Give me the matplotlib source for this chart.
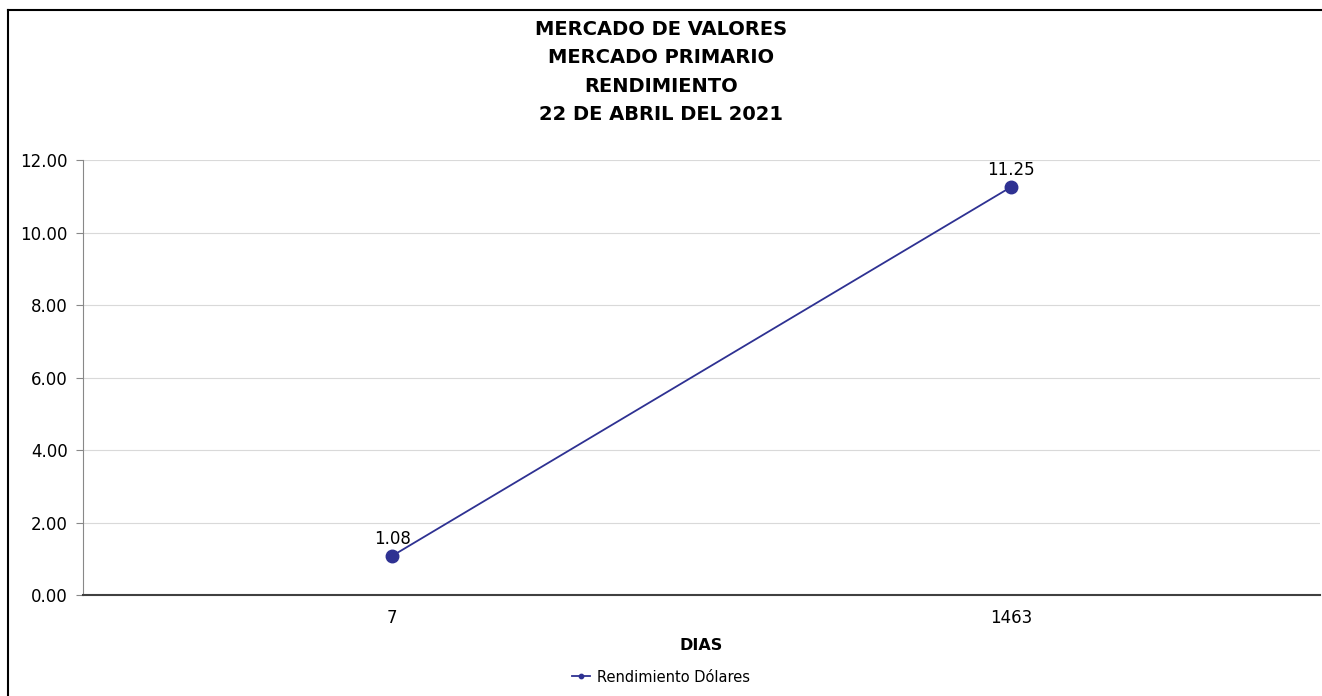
import matplotlib.pyplot as plt
from matplotlib.lines import Line2D

dias = ['7', '1463']
rendimiento = [1.08, 11.25]
y_ticks = [0, 2, 4, 6, 8, 10, 12]
title = 'MERCADO DE VALORES\nMERCADO PRIMARIO\nRENDIMIENTO\n22 DE ABRIL DEL 2021'
color = '#2E3192'

fig = plt.figure(figsize=(13.22, 6.96), dpi=100)
# frame only on the left and top, as in the source
bx, by = 7.5 / 1322, 1 - 9.5 / 696
fig.lines.append(Line2D([bx, bx], [0, by], transform=fig.transFigure, color='black', linewidth=1.5))
fig.lines.append(Line2D([bx, 1], [by, by], transform=fig.transFigure, color='black', linewidth=1.5))

ax = fig.add_axes([83 / 1322, 1 - 595 / 696, (1320 - 83) / 1322, (595 - 160) / 696])

x = list(range(len(dias)))
ax.plot(x, rendimiento, color=color, linewidth=1.3, marker='o', markersize=9,
        label='Rendimiento Dólares', zorder=3)
for xi, v in zip(x, rendimiento):
    ax.annotate(f'{v:.2f}', (xi, v), xytext=(0, 6), textcoords='offset points',
                ha='center', va='bottom', fontsize=12)

ax.set_xlim(-0.5, len(dias) - 0.5)
ax.set_ylim(0, 12)
ax.set_xticks(x)
ax.set_xticklabels(dias, fontsize=12)
ax.set_yticks(y_ticks)
ax.set_yticklabels([f'{t:.2f}' for t in y_ticks], fontsize=12)
ax.tick_params(axis='x', length=0, pad=10)
ax.tick_params(axis='y', length=5, color='#888888', pad=6)
ax.yaxis.grid(True, color='#d9d9d9', linewidth=0.8)
ax.set_axisbelow(True)
for s in ['top', 'right']:
    ax.spines[s].set_visible(False)
ax.spines['left'].set_color('#888888')
ax.spines['bottom'].set_color('#404040')
ax.spines['bottom'].set_linewidth(1.5)
ax.set_xlabel('DIAS', fontsize=11.5, fontweight='bold', labelpad=8)

fig.text(0.5, 1 - 20 / 696, title, ha='center', va='top', fontsize=14,
         fontweight='bold', linespacing=1.62)

fig.legend(loc='center', bbox_to_anchor=(0.5, 1 - 677 / 696), frameon=False,
           fontsize=10.5, markerscale=0.35, handlelength=1.2, handletextpad=0.5)

fig.savefig('out.png', dpi=100, facecolor='white')
